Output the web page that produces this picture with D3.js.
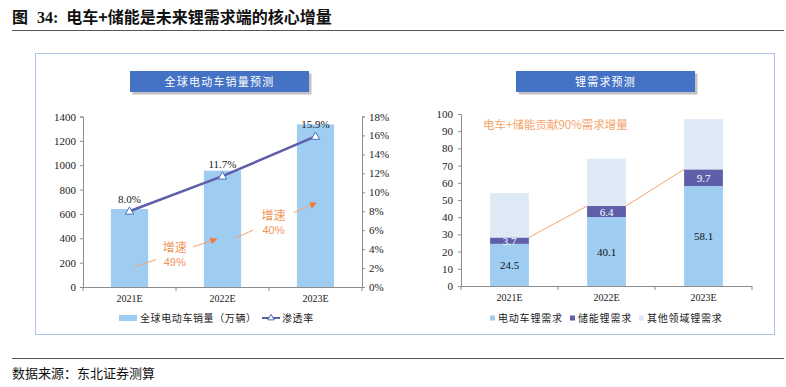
<!DOCTYPE html>
<html lang="zh">
<head>
<meta charset="UTF-8">
<title>电车+储能是未来锂需求端的核心增量</title>
<script src="https://cdn.jsdelivr.net/npm/d3@7"></script>
<style>
    body { margin: 0; background: #fff; }
    svg { display: block; }
    .num { font-family: "Liberation Serif", "Times New Roman", serif; }
    .cjk { font-family: "Noto Sans CJK SC", sans-serif; }
    .axis path, .axis line { stroke: #8c8c8c; }
    .axis text { font-family: "Liberation Serif", "Times New Roman", serif; fill: #222; }
</style>
</head>
<body>
<svg width="786" height="387"></svg>
<script>
// ---- data ----
var years = ["2021E", "2022E", "2023E"];
var evSales = [640, 955, 1335];          // 全球电动车销量（万辆）
var penetration = [0.080, 0.117, 0.159]; // 渗透率
var salesTicks = [0, 200, 400, 600, 800, 1000, 1200, 1400];
var rateTicks = [0, 0.02, 0.04, 0.06, 0.08, 0.10, 0.12, 0.14, 0.16, 0.18];

var evDemand = [24.5, 40.1, 58.1];       // 电动车锂需求
var storageDemand = [3.7, 6.4, 9.7];     // 储能锂需求
var otherDemand = [25.8, 27.5, 29.2];    // 其他领域锂需求
var demandTicks = [0, 10, 20, 30, 40, 50, 60, 70, 80, 90, 100];
var demandSeries = ["电动车锂需求", "储能锂需求", "其他领域锂需求"];
var growthRates = ["49%", "40%"];

var svg = d3.select("svg");
var orange = "#f4a46c";
var orangeDark = "#ec7c30";
var barBlue = "#9fcdf2";
var purple = "#5e5fa8";
var paleBlue = "#dde9f5";
var demandColor = d3.scaleOrdinal().domain(demandSeries).range([barBlue, purple, paleBlue]);

// ---- header / footer ----
var title = svg.append("text").attr("x", 12).attr("y", 23)
    .attr("font-size", 16).attr("font-weight", "bold").attr("fill", "#111");
title.append("tspan").attr("class", "cjk").text("图");
title.append("tspan").attr("class", "num").attr("dx", 9).text("34:");
title.append("tspan").attr("class", "cjk").attr("dx", 8).text("电车+储能是未来锂需求端的核心增量");

svg.append("line").attr("x1", 12).attr("x2", 784).attr("y1", 30.5).attr("y2", 30.5)
    .attr("stroke", "#555").attr("stroke-width", 1.2);
svg.append("line").attr("x1", 12).attr("x2", 784).attr("y1", 358.5).attr("y2", 358.5)
    .attr("stroke", "#555").attr("stroke-width", 1.2);
svg.append("text").attr("class", "cjk").attr("x", 12).attr("y", 378)
    .attr("font-size", 13).attr("fill", "#111").text("数据来源：东北证券测算");

// outer panel
svg.append("rect").attr("x", 35.5).attr("y", 53.5).attr("width", 739).attr("height", 281)
    .attr("fill", "none").attr("stroke", "#adc3e8").attr("stroke-width", 1);

// blue title boxes with shadow
function titleBox(x, w, label) {
    svg.append("rect").attr("x", x + 2.5).attr("y", 73.5).attr("width", w).attr("height", 21)
        .attr("fill", "#9a9a9a").attr("opacity", 0.6);
    svg.append("rect").attr("x", x).attr("y", 71).attr("width", w).attr("height", 21)
        .attr("fill", "#4472c4");
    svg.append("text").attr("class", "cjk").attr("x", x + w / 2).attr("y", 85.5)
        .attr("text-anchor", "middle").attr("font-size", 11).attr("letter-spacing", 1.2)
        .attr("fill", "#fff").text(label);
}
titleBox(130, 179, "全球电动车销量预测");
titleBox(516, 179, "锂需求预测");

// ================= left chart =================
var x0 = d3.scaleBand().domain(years).range([83, 362]);
var yL = d3.scaleLinear().domain([0, 1400]).range([287, 116.5]);
var yR = d3.scaleLinear().domain([0, 0.18]).range([287, 116.5]);
var barW0 = x0.bandwidth() * 0.4;
function cx0(d) { return x0(d) + x0.bandwidth() / 2; }

svg.append("g").selectAll("rect").data(years).enter().append("rect")
    .attr("x", function(d) { return cx0(d) - barW0 / 2; })
    .attr("y", function(d, i) { return yL(evSales[i]); })
    .attr("width", barW0)
    .attr("height", function(d, i) { return yL(0) - yL(evSales[i]); })
    .attr("fill", barBlue);

svg.append("g").attr("class", "axis").attr("transform", "translate(83,0)")
    .call(d3.axisLeft(yL).tickValues(salesTicks).tickSize(3).tickPadding(4).tickFormat(d3.format("d")))
    .call(function(g) { g.selectAll("text").attr("font-size", 11); });

svg.append("g").attr("class", "axis").attr("transform", "translate(362,0)")
    .call(d3.axisRight(yR).tickValues(rateTicks).tickSize(3).tickPadding(4).tickFormat(d3.format(".0%")))
    .call(function(g) { g.selectAll("text").attr("font-size", 11); });

function bandAxis(g, scale, yPos) {
    var r = scale.range();
    var edges = [r[0]].concat(scale.domain().map(function(d) { return scale(d) + scale.bandwidth(); }));
    g.append("line").attr("x1", r[0]).attr("x2", r[1]).attr("y1", yPos + 0.5).attr("y2", yPos + 0.5)
        .attr("stroke", "#8c8c8c");
    g.selectAll("line.tk").data(edges).enter().append("line").attr("class", "tk")
        .attr("x1", function(d) { return d; }).attr("x2", function(d) { return d; })
        .attr("y1", yPos).attr("y2", yPos + 4).attr("stroke", "#8c8c8c");
    g.selectAll("text").data(scale.domain()).enter().append("text").attr("class", "num")
        .attr("x", function(d) { return scale(d) + scale.bandwidth() / 2; })
        .attr("y", yPos + 15).attr("text-anchor", "middle").attr("font-size", 10)
        .attr("fill", "#222").text(function(d) { return d; });
}
bandAxis(svg.append("g"), x0, 287);

// penetration line
var line = d3.line().x(function(d, i) { return cx0(years[i]); }).y(function(d) { return yR(d); });
svg.append("path").datum(penetration).attr("d", line)
    .attr("fill", "none").attr("stroke", purple).attr("stroke-width", 2.5);
var tri = d3.symbol().type(d3.symbolTriangle).size(30);
svg.append("g").selectAll("path").data(penetration).enter().append("path")
    .attr("d", tri)
    .attr("transform", function(d, i) { return "translate(" + cx0(years[i]) + "," + (yR(d) + 0.5) + ")"; })
    .attr("fill", "#fff").attr("stroke", "#4a6fc0").attr("stroke-width", 1);
svg.append("g").selectAll("text").data(penetration).enter().append("text").attr("class", "num")
    .attr("x", function(d, i) { return cx0(years[i]); })
    .attr("y", function(d) { return yR(d) - 8; })
    .attr("text-anchor", "middle").attr("font-size", 11).attr("fill", "#222")
    .text(function(d) { return d3.format(".1%")(d); });

// growth arrows (positions in category / sales units)
var arrows = [
    { from: [0.05, 164], to: [0.93, 393], gap: [0.27, 0.72], label: growthRates[0] },
    { from: [1.13, 401], to: [2.0, 688], gap: [0.23, 0.73], label: growthRates[1] }
];
function catX(v) { return x0(years[0]) + x0.bandwidth() / 2 + v * x0.step(); }
var defs = svg.append("defs");
defs.append("marker").attr("id", "ah").attr("viewBox", "0 0 10 10").attr("refX", 8).attr("refY", 5)
    .attr("markerWidth", 7).attr("markerHeight", 7).attr("orient", "auto")
    .append("path").attr("d", "M0,0L10,5L0,10z").attr("fill", orangeDark);
arrows.forEach(function(a) {
    var x1 = catX(a.from[0]), y1 = yL(a.from[1]), x2 = catX(a.to[0]), y2 = yL(a.to[1]);
    function p(t) { return [x1 + (x2 - x1) * t, y1 + (y2 - y1) * t]; }
    var g1 = p(a.gap[0]), g2 = p(a.gap[1]);
    svg.append("line").attr("x1", x1).attr("y1", y1).attr("x2", g1[0]).attr("y2", g1[1])
        .attr("stroke", orange).attr("stroke-width", 1);
    svg.append("line").attr("x1", g2[0]).attr("y1", g2[1]).attr("x2", x2).attr("y2", y2)
        .attr("stroke", orange).attr("stroke-width", 1).attr("marker-end", "url(#ah)");
    var mid = p((a.gap[0] + a.gap[1]) / 2);
    svg.append("text").attr("class", "cjk").attr("x", mid[0]).attr("y", mid[1] - 1)
        .attr("text-anchor", "middle").attr("font-size", 12).attr("fill", "#f0955a").text("增速");
    svg.append("text").attr("x", mid[0]).attr("y", mid[1] + 13)
        .attr("font-family", "Liberation Sans, Arial, sans-serif")
        .attr("text-anchor", "middle").attr("font-size", 11).attr("fill", "#f0955a").text(a.label);
});

// left legend
var lg = svg.append("g").attr("transform", "translate(0,318)");
lg.append("rect").attr("x", 119).attr("y", -3).attr("width", 18).attr("height", 6).attr("fill", barBlue);
lg.append("text").attr("class", "cjk").attr("x", 140).attr("y", 3.5).attr("font-size", 10)
    .attr("letter-spacing", 0.6).attr("fill", "#222").text("全球电动车销量（万辆）");
lg.append("line").attr("x1", 262).attr("x2", 280).attr("y1", 0).attr("y2", 0)
    .attr("stroke", purple).attr("stroke-width", 2);
lg.append("path").attr("d", d3.symbol().type(d3.symbolTriangle).size(18))
    .attr("transform", "translate(271,0)").attr("fill", "#fff").attr("stroke", "#4a6fc0");
lg.append("text").attr("class", "cjk").attr("x", 282).attr("y", 3.5).attr("font-size", 10)
    .attr("letter-spacing", 0.6).attr("fill", "#222").text("渗透率");

// ================= right chart =================
var x1s = d3.scaleBand().domain(years).range([461, 752]);
var yD = d3.scaleLinear().domain([0, 100]).range([286, 114]);
var barW1 = x1s.bandwidth() * 0.4;
function cx1(d) { return x1s(d) + x1s.bandwidth() / 2; }

var table = years.map(function(y, i) {
    return { year: y, "电动车锂需求": evDemand[i], "储能锂需求": storageDemand[i], "其他领域锂需求": otherDemand[i] };
});
var stacked = d3.stack().keys(demandSeries)(table);

svg.append("g").selectAll("g").data(stacked).enter().append("g")
    .attr("fill", function(s) { return demandColor(s.key); })
    .selectAll("rect").data(function(s) { return s; }).enter().append("rect")
    .attr("x", function(d) { return cx1(d.data.year) - barW1 / 2; })
    .attr("y", function(d) { return yD(d[1]); })
    .attr("width", barW1)
    .attr("height", function(d) { return yD(d[0]) - yD(d[1]); });

svg.append("g").attr("class", "axis").attr("transform", "translate(461,0)")
    .call(d3.axisLeft(yD).tickValues(demandTicks).tickSize(3).tickPadding(5))
    .call(function(g) { g.selectAll("text").attr("font-size", 11); });
bandAxis(svg.append("g"), x1s, 286);

// series lines joining storage tops
var stTop = stacked[1];
for (var i = 0; i < years.length - 1; i++) {
    svg.append("line")
        .attr("x1", cx1(years[i]) + barW1 / 2).attr("y1", yD(stTop[i][1]))
        .attr("x2", cx1(years[i + 1]) - barW1 / 2).attr("y2", yD(stTop[i + 1][1]))
        .attr("stroke", orange).attr("stroke-width", 1);
}

// stacked labels
[0, 1].forEach(function(k) {
    svg.append("g").selectAll("text").data(stacked[k]).enter().append("text").attr("class", "num")
        .attr("x", function(d) { return cx1(d.data.year); })
        .attr("y", function(d) { return (yD(d[0]) + yD(d[1])) / 2 + 4; })
        .attr("text-anchor", "middle").attr("font-size", 11)
        .attr("fill", k === 0 ? "#111" : "#fff")
        .text(function(d) { return d3.format(".1f")(d[1] - d[0]); });
});

svg.append("text").attr("class", "cjk").attr("x", 483).attr("y", 128.5)
    .attr("font-size", 11.5).attr("fill", orange).text("电车+储能贡献90%需求增量");

// right legend
var legendX = [490, 570, 639];
var rg = svg.append("g").attr("transform", "translate(0,318)");
demandSeries.forEach(function(s, i) {
    rg.append("rect").attr("x", legendX[i]).attr("y", -2.5).attr("width", 5).attr("height", 5)
        .attr("fill", demandColor(s));
    rg.append("text").attr("class", "cjk").attr("x", legendX[i] + 8).attr("y", 3.5).attr("font-size", 10)
        .attr("letter-spacing", 0.8).attr("fill", "#222").text(s);
});
</script>
</body>
</html>
